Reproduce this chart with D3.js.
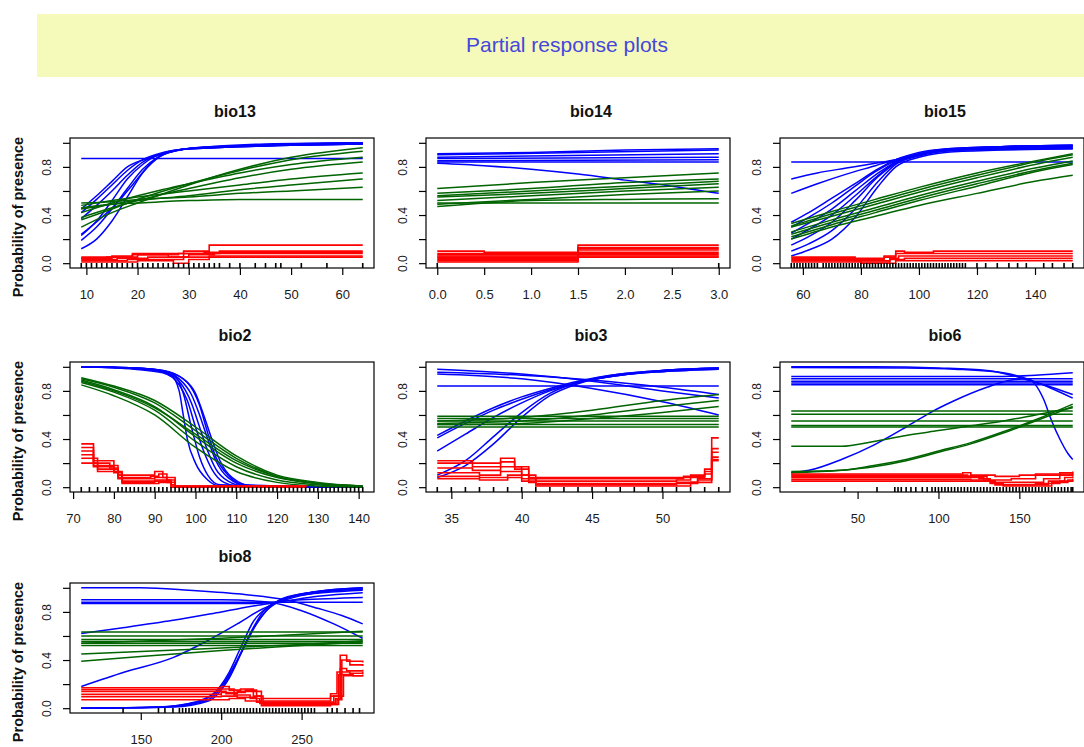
<!DOCTYPE html>
<html>
<head>
<meta charset="utf-8">
<script src="https://cdn.jsdelivr.net/npm/d3@7"></script>
<style>
  body { margin: 0; background: #fff; }
  svg { display: block; font-family: Arial, "Liberation Sans", sans-serif; }
</style>
</head>
<body>
<svg id="chart" width="1084" height="747"></svg>
<script>
const pageTitle = 'Partial response plots';
const yLabel = 'Probability of presence';
const panelNames = ['bio13', 'bio14', 'bio15', 'bio2', 'bio3', 'bio6', 'bio8'];
const yTicks = [0, 0.2, 0.4, 0.6, 0.8, 1.0];
const yTickLabels = ['0.0', '', '0.4', '', '0.8', ''];

// ---- bio13 ----
const bio13Ticks = [10, 20, 30, 40, 50, 60];
const bio13Blue = [
  [[9,0.87],[64,0.87]],
  [[9,0.12],[12,0.2],[15,0.35],[18,0.55],[21,0.75],[24,0.88],[28,0.94],[35,0.97],[45,0.99],[64,1.0]],
  [[9,0.19],[12,0.3],[15,0.45],[18,0.62],[21,0.78],[24,0.88],[28,0.94],[35,0.97],[64,0.99]],
  [[9,0.23],[12,0.35],[15,0.52],[18,0.7],[21,0.82],[24,0.9],[30,0.95],[64,0.99]],
  [[9,0.24],[13,0.38],[16,0.5],[19,0.65],[22,0.8],[25,0.9],[30,0.95],[64,0.99]],
  [[9,0.37],[12,0.48],[15,0.6],[18,0.73],[21,0.84],[25,0.91],[30,0.95],[64,0.99]],
  [[9,0.42],[12,0.53],[15,0.65],[18,0.77],[21,0.86],[25,0.92],[30,0.95],[64,1.0]],
  [[9,0.45],[12,0.56],[15,0.68],[18,0.8],[22,0.87],[26,0.92],[32,0.96],[64,1.0]]
];
const bio13Green = [
  [[9,0.30],[15,0.42],[20,0.5],[30,0.65],[40,0.78],[50,0.88],[64,0.96]],
  [[9,0.36],[15,0.45],[20,0.53],[30,0.66],[40,0.77],[50,0.86],[64,0.93]],
  [[9,0.42],[15,0.5],[20,0.56],[30,0.66],[40,0.75],[50,0.82],[64,0.88]],
  [[9,0.38],[15,0.46],[20,0.52],[30,0.62],[40,0.71],[50,0.78],[64,0.84]],
  [[9,0.48],[15,0.52],[20,0.55],[30,0.6],[40,0.65],[50,0.7],[64,0.75]],
  [[9,0.45],[15,0.49],[20,0.52],[30,0.56],[40,0.61],[50,0.65],[64,0.70]],
  [[9,0.5],[15,0.51],[20,0.53],[30,0.55],[40,0.58],[50,0.6],[64,0.63]],
  [[9,0.46],[15,0.49],[20,0.5],[30,0.52],[40,0.53],[64,0.53]]
];
const bio13Red = [
  [[9,0.05],[15,0.06],[19,0.08],[29,0.1],[34,0.15],[64,0.15]],
  [[9,0.04],[15,0.05],[20,0.07],[28,0.08],[36,0.1],[64,0.1]],
  [[9,0.04],[14,0.05],[19,0.07],[26,0.05],[29,0.08],[33,0.09],[64,0.09]],
  [[9,0.03],[16,0.04],[22,0.05],[30,0.07],[35,0.08],[64,0.08]],
  [[9,0.02],[18,0.03],[25,0.03],[29,0.05],[34,0.06],[64,0.06]],
  [[9,0.01],[20,0.02],[27,0.0],[30,0.03],[34,0.05],[64,0.05]]
];
const bio13Rug = [9,10,11,12,13,14,15,16,17,18,19,20,21,22,23,24,25,26,27,28,29,30,31,32,33,34,35,
  36,38,40,43,45,47,48,52,57,64];

// ---- bio14 ----
const bio14Ticks = [0, 0.5, 1.0, 1.5, 2.0, 2.5, 3.0];
const bio14Blue = [
  [[0,0.91],[1,0.92],[2,0.94],[3,0.95]],
  [[0,0.9],[1.5,0.92],[3,0.94]],
  [[0,0.88],[3,0.91]],
  [[0,0.87],[3,0.88]],
  [[0,0.85],[3,0.86]],
  [[0,0.84],[3,0.84]],
  [[0,0.83],[0.5,0.81],[1,0.78],[1.5,0.74],[2,0.69],[2.5,0.64],[3,0.58]]
];
const bio14Green = [
  [[0,0.62],[1,0.67],[2,0.71],[3,0.75]],
  [[0,0.58],[1,0.62],[2,0.67],[3,0.70]],
  [[0,0.56],[1,0.6],[2,0.64],[3,0.68]],
  [[0,0.55],[1,0.58],[2,0.62],[3,0.66]],
  [[0,0.52],[1,0.56],[2,0.6],[3,0.63]],
  [[0,0.49],[1,0.53],[2,0.57],[3,0.6]],
  [[0,0.47],[1,0.52],[2,0.53],[3,0.535]],
  [[0,0.5],[1,0.5],[3,0.5]]
];
const bio14Red = [
  [[0,0.1],[0.5,0.09],[1.5,0.15],[3,0.15]],
  [[0,0.08],[1.5,0.13],[3,0.13]],
  [[0,0.07],[1.5,0.12],[3,0.12]],
  [[0,0.06],[1.5,0.11],[3,0.11]],
  [[0,0.05],[1.5,0.09],[3,0.09]],
  [[0,0.04],[1.5,0.08],[3,0.08]],
  [[0,0.03],[1.5,0.07],[3,0.07]],
  [[0,0.02],[1.5,0.06],[3,0.06]],
  [[0,0.01],[1.5,0.05],[3,0.05]]
];
const bio14Rug = [0, 3];

// ---- bio15 ----
const bio15Ticks = [60, 80, 100, 120, 140];
const bio15Blue = [
  [[56,0.84],[153,0.84]],
  [[56,0.70],[65,0.75],[75,0.79],[85,0.83],[92,0.86],[100,0.9],[110,0.94],[130,0.96],[153,0.97]],
  [[56,0.58],[65,0.66],[75,0.74],[85,0.81],[92,0.86],[100,0.91],[110,0.94],[130,0.97],[153,0.98]],
  [[56,0.34],[62,0.42],[70,0.54],[78,0.66],[85,0.77],[92,0.86],[100,0.92],[110,0.95],[130,0.97],[153,0.98]],
  [[56,0.3],[62,0.38],[70,0.5],[78,0.64],[85,0.76],[92,0.85],[100,0.91],[110,0.95],[130,0.97],[153,0.98]],
  [[56,0.25],[62,0.33],[70,0.45],[78,0.6],[86,0.75],[92,0.84],[100,0.9],[115,0.95],[153,0.97]],
  [[56,0.2],[62,0.28],[70,0.4],[78,0.56],[86,0.73],[92,0.84],[100,0.9],[115,0.95],[153,0.96]],
  [[56,0.15],[62,0.22],[70,0.34],[78,0.52],[86,0.72],[92,0.83],[100,0.9],[115,0.94],[153,0.96]],
  [[56,0.1],[62,0.16],[70,0.27],[78,0.45],[86,0.68],[92,0.82],[100,0.89],[115,0.94],[153,0.95]],
  [[56,0.06],[62,0.11],[70,0.2],[78,0.38],[86,0.64],[92,0.8],[100,0.88],[115,0.93],[153,0.95]]
];
const bio15Green = [
  [[56,0.33],[70,0.43],[85,0.53],[100,0.63],[120,0.75],[140,0.85],[153,0.91]],
  [[56,0.31],[70,0.41],[85,0.51],[100,0.61],[120,0.73],[140,0.84],[153,0.9]],
  [[56,0.30],[70,0.39],[85,0.49],[100,0.59],[120,0.71],[140,0.82],[153,0.88]],
  [[56,0.26],[70,0.36],[85,0.46],[100,0.56],[120,0.68],[140,0.79],[153,0.85]],
  [[56,0.24],[70,0.34],[85,0.44],[100,0.54],[120,0.66],[140,0.77],[153,0.83]],
  [[56,0.22],[70,0.32],[85,0.42],[100,0.52],[120,0.64],[140,0.76],[153,0.82]],
  [[56,0.2],[70,0.3],[85,0.39],[100,0.48],[120,0.58],[140,0.68],[153,0.73]]
];
const bio15Red = [
  [[56,0.05],[78,0.04],[88,0.06],[92,0.1],[95,0.09],[105,0.1],[153,0.1]],
  [[56,0.04],[78,0.03],[88,0.05],[92,0.08],[153,0.08]],
  [[56,0.03],[78,0.02],[90,0.04],[93,0.06],[153,0.06]],
  [[56,0.02],[80,0.01],[90,0.03],[95,0.04],[153,0.04]],
  [[56,0.01],[80,0.0],[92,0.02],[153,0.02]]
];
const bio15Rug = [56,57,58,59,60,61,62,63,64,65,67,68,69,70,71,72,73,74,75,76,77,78,79,80,81,82,83,84,85,
  86,87,88,89,90,91,92,93,94,95,96,97,98,99,100,101,102,103,104,105,106,107,108,109,110,111,112,113,114,
  115,116,120,123,127,131,134,137,143,146,150,153];

// ---- bio2 ----
const bio2Ticks = [70, 80, 90, 100, 110, 120, 130, 140];
const bio2Blue = [
  [[72,1.0],[85,0.99],[92,0.96],[96,0.88],[99,0.7],[101,0.5],[103,0.3],[105,0.15],[108,0.05],[112,0.01],[141,0.0]],
  [[72,1.0],[85,0.99],[92,0.97],[96,0.9],[99,0.77],[101,0.6],[103,0.4],[105,0.22],[108,0.08],[113,0.01],[141,0.0]],
  [[72,1.0],[85,0.99],[92,0.97],[97,0.9],[100,0.78],[102,0.6],[104,0.4],[106,0.22],[109,0.08],[114,0.01],[141,0.0]],
  [[72,1.0],[85,0.98],[92,0.95],[96,0.85],[98,0.72],[100,0.5],[102,0.3],[104,0.15],[107,0.04],[112,0.0],[141,0.0]],
  [[72,1.0],[88,0.98],[94,0.93],[96,0.8],[97,0.6],[98,0.4],[100,0.2],[103,0.06],[106,0.01],[141,0.0]],
  [[72,1.0],[88,0.98],[95,0.92],[97,0.78],[99,0.5],[101,0.25],[103,0.1],[106,0.02],[141,0.0]],
  [[72,1.0],[85,0.99],[93,0.96],[98,0.87],[101,0.68],[103,0.45],[105,0.25],[108,0.1],[112,0.02],[141,0.0]]
];
const bio2Green = [
  [[72,0.91],[80,0.84],[90,0.72],[100,0.5],[110,0.26],[120,0.1],[130,0.04],[141,0.01]],
  [[72,0.9],[80,0.83],[90,0.7],[100,0.47],[110,0.24],[120,0.09],[130,0.03],[141,0.01]],
  [[72,0.88],[80,0.8],[90,0.66],[100,0.44],[110,0.22],[120,0.09],[130,0.03],[141,0.01]],
  [[72,0.89],[80,0.81],[90,0.67],[100,0.42],[110,0.2],[120,0.08],[130,0.03],[141,0.01]],
  [[72,0.87],[80,0.79],[90,0.64],[100,0.38],[110,0.17],[120,0.06],[130,0.02],[141,0.0]],
  [[72,0.85],[80,0.76],[90,0.6],[100,0.33],[110,0.13],[120,0.04],[130,0.01],[141,0.0]]
];
const bio2Red = [
  [[72,0.36],[75,0.22],[80,0.18],[81,0.1],[88,0.1],[90,0.13],[92,0.08],[95,0.0],[127,0.0]],
  [[72,0.33],[75,0.2],[79,0.16],[81,0.08],[89,0.09],[91,0.11],[93,0.06],[95,0.01],[127,0.0]],
  [[72,0.3],[75,0.18],[80,0.15],[81,0.07],[90,0.08],[93,0.04],[95,0.0],[127,0.0]],
  [[72,0.27],[75,0.17],[80,0.13],[82,0.05],[90,0.06],[94,0.02],[95,0.0],[127,0.0]],
  [[72,0.24],[76,0.15],[80,0.12],[82,0.04],[90,0.05],[94,0.01],[127,0.0]],
  [[72,0.2],[76,0.13],[81,0.1],[82,0.03],[91,0.04],[94,0.0],[127,0.0]]
];
const bio2Rug = [72,74,76,78,79,81,82,83,84,85,86,87,88,89,90,91,92,93,94,95,96,97,98,99,100,101,102,103,
  104,105,106,107,108,109,110,111,112,113,114,115,116,117,118,119,120,121,122,123,124,125,126,127,128,129,
  130,131,132,133,134,135,136,137,138,139,140,141];

// ---- bio3 ----
const bio3Ticks = [35, 40, 45, 50];
const bio3Blue = [
  [[34,0.98],[40,0.94],[45,0.88],[50,0.8],[54,0.74]],
  [[34,0.955],[40,0.93],[45,0.89],[50,0.83],[54,0.77]],
  [[34,0.94],[40,0.9],[45,0.82],[50,0.71],[54,0.6]],
  [[34,0.84],[54,0.84]],
  [[34,0.43],[36,0.55],[38,0.66],[40,0.75],[42,0.82],[44,0.88],[47,0.94],[50,0.97],[54,0.99]],
  [[34,0.41],[36,0.53],[38,0.64],[40,0.73],[42,0.81],[44,0.87],[47,0.93],[50,0.96],[54,0.98]],
  [[34,0.3],[36,0.44],[38,0.58],[40,0.7],[42,0.8],[44,0.87],[47,0.93],[50,0.97],[54,0.99]],
  [[34,0.1],[36,0.22],[38,0.42],[40,0.62],[42,0.78],[44,0.87],[47,0.94],[50,0.97],[54,0.99]],
  [[34,0.08],[36,0.18],[38,0.36],[40,0.58],[42,0.76],[44,0.86],[47,0.93],[50,0.96],[54,0.98]]
];
const bio3Green = [
  [[34,0.55],[40,0.58],[45,0.64],[50,0.72],[54,0.77]],
  [[34,0.53],[40,0.55],[45,0.6],[50,0.67],[54,0.72]],
  [[34,0.52],[40,0.53],[45,0.57],[50,0.62],[54,0.67]],
  [[34,0.59],[54,0.59]],
  [[34,0.57],[54,0.57]],
  [[34,0.55],[54,0.55]],
  [[34,0.52],[54,0.52]],
  [[34,0.5],[54,0.5]]
];
const bio3Red = [
  [[34,0.22],[36.5,0.2],[38.5,0.24],[39.5,0.17],[40.5,0.08],[51,0.08],[52,0.1],[53,0.15],[53.5,0.41],[54,0.41]],
  [[34,0.2],[36.5,0.17],[38.5,0.21],[39.5,0.15],[40.5,0.07],[51.5,0.09],[53,0.13],[53.5,0.32],[54,0.32]],
  [[34,0.16],[36.5,0.14],[38.5,0.17],[40,0.1],[41,0.05],[51,0.06],[52,0.08],[53,0.11],[53.5,0.29],[54,0.29]],
  [[34,0.12],[37,0.1],[38.5,0.13],[40,0.07],[41,0.03],[51,0.04],[52.5,0.07],[53.5,0.25],[54,0.25]],
  [[34,0.09],[37,0.08],[39,0.1],[40.5,0.04],[41,0.02],[51,0.03],[52.5,0.06],[53.5,0.23],[54,0.23]],
  [[34,0.07],[37,0.06],[39,0.08],[40,0.05],[41,0.01],[50,0.01],[52,0.04],[53.5,0.22],[54,0.22]]
];
const bio3Rug = [34,35,36,37,38,39,40,41,42,43,44,45,46,47,48,49,50,51,52,53,54];

// ---- bio6 ----
const bio6Ticks = [50, 100, 150];
const bio6Blue = [
  [[9,1.0],[60,1.0],[100,0.99],[130,0.97],[145,0.93],[160,0.87],[170,0.83],[183,0.77]],
  [[9,0.995],[80,0.99],[110,0.98],[140,0.95],[155,0.9],[170,0.82],[183,0.74]],
  [[9,0.92],[140,0.92],[160,0.93],[183,0.95]],
  [[9,0.9],[183,0.9]],
  [[9,0.88],[183,0.88]],
  [[9,0.865],[183,0.865]],
  [[9,0.85],[183,0.85]],
  [[9,0.12],[20,0.14],[40,0.23],[60,0.35],[80,0.5],[95,0.62],[110,0.72],[130,0.83],[145,0.89],[155,0.9],
   [160,0.85],[165,0.73],[170,0.55],[175,0.4],[180,0.28],[183,0.23]]
];
const bio6Green = [
  [[9,0.633],[183,0.633]],
  [[9,0.605],[183,0.605]],
  [[9,0.55],[183,0.55]],
  [[9,0.513],[183,0.513]],
  [[9,0.5],[183,0.5]],
  [[9,0.34],[40,0.34],[60,0.38],[80,0.43],[100,0.47],[120,0.51],[140,0.55],[160,0.6],[183,0.66]],
  [[9,0.13],[40,0.14],[60,0.18],[80,0.23],[100,0.3],[120,0.37],[140,0.46],[160,0.56],[183,0.69]],
  [[9,0.12],[40,0.14],[60,0.17],[80,0.22],[100,0.29],[120,0.36],[140,0.45],[160,0.55],[183,0.67]]
];
const bio6Red = [
  [[9,0.11],[112,0.11],[115,0.12],[120,0.1],[135,0.09],[150,0.1],[160,0.11],[175,0.12],[183,0.13]],
  [[9,0.1],[112,0.1],[118,0.09],[130,0.06],[145,0.07],[160,0.1],[175,0.11],[183,0.12]],
  [[9,0.09],[112,0.09],[125,0.07],[132,0.04],[150,0.04],[165,0.07],[175,0.1],[183,0.11]],
  [[9,0.08],[115,0.08],[128,0.05],[135,0.02],[155,0.02],[168,0.05],[178,0.08],[183,0.09]],
  [[9,0.065],[120,0.06],[132,0.03],[140,0.01],[158,0.01],[170,0.04],[180,0.06],[183,0.07]],
  [[9,0.05],[125,0.05],[135,0.02],[160,0.03],[175,0.05],[183,0.06]]
];
const bio6Rug = [42,62,73,75,77,80,83,86,90,93,96,98,100,102,104,106,108,110,112,114,116,118,120,122,124,
  126,128,130,132,134,136,138,140,142,144,146,148,150,152,154,156,158,160,162,164,166,168,170,172,174,176,
  178,180,182,183];

// ---- bio8 ----
const bio8Ticks = [150, 200, 250];
const bio8Blue = [
  [[113,1.0],[150,1.0],[180,0.98],[210,0.95],[240,0.9],[260,0.83],[275,0.77],[288,0.7]],
  [[113,0.9],[200,0.9],[230,0.88],[250,0.81],[270,0.7],[288,0.58]],
  [[113,0.88],[288,0.88]],
  [[113,0.87],[220,0.87],[250,0.9],[288,0.92]],
  [[113,0.62],[140,0.67],[170,0.73],[200,0.8],[225,0.86],[240,0.89],[260,0.93],[288,0.96]],
  [[113,0.18],[140,0.3],[170,0.42],[190,0.55],[210,0.7],[225,0.82],[240,0.9],[260,0.96],[288,0.99]],
  [[113,0.0],[160,0.01],[180,0.04],[195,0.12],[205,0.3],[212,0.5],[220,0.72],[230,0.85],[240,0.91],[260,0.97],[288,1.0]],
  [[113,0.0],[160,0.01],[185,0.05],[200,0.18],[210,0.4],[218,0.62],[226,0.8],[235,0.89],[250,0.95],[288,0.99]],
  [[113,0.0],[165,0.01],[190,0.06],[203,0.22],[212,0.45],[220,0.66],[228,0.81],[238,0.9],[255,0.96],[288,1.0]],
  [[113,0.0],[170,0.01],[192,0.06],[205,0.25],[214,0.5],[222,0.7],[232,0.86],[245,0.93],[288,0.98]]
];
const bio8Green = [
  [[113,0.632],[288,0.632]],
  [[113,0.6],[288,0.6]],
  [[113,0.57],[288,0.57]],
  [[113,0.555],[288,0.555]],
  [[113,0.54],[288,0.54]],
  [[113,0.52],[288,0.52]],
  [[113,0.39],[150,0.43],[200,0.48],[250,0.52],[288,0.55]],
  [[113,0.45],[150,0.47],[200,0.5],[250,0.53],[288,0.56]],
  [[113,0.54],[200,0.58],[288,0.64]]
];
const bio8Red = [
  [[113,0.17],[198,0.17],[200,0.18],[205,0.15],[212,0.16],[220,0.14],[225,0.08],[262,0.08],[268,0.12],[272,0.3],[274,0.44],[278,0.39],[288,0.38]],
  [[113,0.155],[196,0.155],[200,0.16],[208,0.13],[215,0.15],[222,0.1],[226,0.06],[262,0.06],[268,0.1],[273,0.28],[275,0.4],[280,0.36],[288,0.35]],
  [[113,0.14],[198,0.14],[203,0.12],[210,0.14],[220,0.1],[225,0.05],[265,0.05],[270,0.1],[274,0.33],[278,0.31],[288,0.32]],
  [[113,0.115],[195,0.115],[200,0.13],[208,0.11],[218,0.08],[224,0.04],[265,0.04],[271,0.08],[274,0.3],[280,0.29],[288,0.3]],
  [[113,0.095],[200,0.1],[210,0.09],[222,0.05],[226,0.03],[266,0.03],[272,0.07],[275,0.28],[282,0.27],[288,0.28]],
  [[113,0.07],[198,0.07],[205,0.08],[215,0.06],[225,0.02],[268,0.03],[273,0.1],[276,0.27],[288,0.27]]
];
const bio8Rug = [139,161,165,170,174,176,178,180,182,184,186,188,190,192,194,196,198,200,202,204,206,208,
  210,212,214,216,218,220,222,224,226,228,230,232,234,236,238,240,242,244,246,248,250,252,254,256,258,
  266,269,272,277,282,286];

const panels = [
  { blue: bio13Blue, green: bio13Green, red: bio13Red, rug: bio13Rug, ticks: bio13Ticks, fmt: d3.format('d') },
  { blue: bio14Blue, green: bio14Green, red: bio14Red, rug: bio14Rug, ticks: bio14Ticks, fmt: d3.format('.1f') },
  { blue: bio15Blue, green: bio15Green, red: bio15Red, rug: bio15Rug, ticks: bio15Ticks, fmt: d3.format('d') },
  { blue: bio2Blue, green: bio2Green, red: bio2Red, rug: bio2Rug, ticks: bio2Ticks, fmt: d3.format('d') },
  { blue: bio3Blue, green: bio3Green, red: bio3Red, rug: bio3Rug, ticks: bio3Ticks, fmt: d3.format('d') },
  { blue: bio6Blue, green: bio6Green, red: bio6Red, rug: bio6Rug, ticks: bio6Ticks, fmt: d3.format('d') },
  { blue: bio8Blue, green: bio8Green, red: bio8Red, rug: bio8Rug, ticks: bio8Ticks, fmt: d3.format('d') }
];

const svg = d3.select('#chart');

// header band
svg.append('rect')
  .attr('x', 37).attr('y', 14).attr('width', 1047).attr('height', 63)
  .attr('fill', '#f5f9b9');
svg.append('text')
  .attr('x', 567).attr('y', 52)
  .attr('text-anchor', 'middle')
  .attr('font-size', 21)
  .attr('fill', '#4646dc')
  .text(pageTitle);

const W = 304, H = 130;
const lefts = [70, 426, 780];
const tops = [138, 362, 583];
const colors = { blue: '#0000ff', green: '#006400', red: '#ff0000' };

panels.forEach((p, i) => {
  const x0 = lefts[i % 3], y0 = tops[Math.floor(i / 3)];
  const g = svg.append('g').attr('transform', `translate(${x0},${y0})`);

  const pts = [...p.blue, ...p.green, ...p.red].flat();
  const [lo, hi] = d3.extent(pts, d => d[0]);
  const pad = (hi - lo) * 0.04;
  const x = d3.scaleLinear().domain([lo - pad, hi + pad]).range([0, W]);
  const y = d3.scaleLinear().domain([-0.04, 1.04]).range([H, 0]);

  const smooth = d3.line().x(d => x(d[0])).y(d => y(d[1])).curve(d3.curveMonotoneX);
  const step = d3.line().x(d => x(d[0])).y(d => y(d[1])).curve(d3.curveStepAfter);

  g.append('g').selectAll('path').data(p.blue).enter().append('path')
    .attr('d', smooth).attr('fill', 'none').attr('stroke', colors.blue).attr('stroke-width', 1.5);
  g.append('g').selectAll('path').data(p.green).enter().append('path')
    .attr('d', smooth).attr('fill', 'none').attr('stroke', colors.green).attr('stroke-width', 1.5);
  g.append('g').selectAll('path').data(p.red).enter().append('path')
    .attr('d', step).attr('fill', 'none').attr('stroke', colors.red).attr('stroke-width', 1.6);

  // rug
  g.append('g').selectAll('line').data(p.rug).enter().append('line')
    .attr('x1', d => x(d)).attr('x2', d => x(d))
    .attr('y1', H).attr('y2', H - 5)
    .attr('stroke', '#000').attr('stroke-width', 1.6);

  // box
  g.append('rect').attr('width', W).attr('height', H)
    .attr('fill', 'none').attr('stroke', '#000').attr('stroke-width', 1.2);

  // x axis
  const xa = g.append('g').attr('transform', `translate(0,${H})`)
    .call(d3.axisBottom(x).tickValues(p.ticks).tickSize(7).tickPadding(15).tickFormat(p.fmt));
  xa.select('.domain').remove();
  xa.selectAll('text').attr('font-size', 13).attr('fill', '#1a1a1a').attr('font-family', 'Arial, "Liberation Sans", sans-serif');
  xa.selectAll('line').attr('stroke', '#000').attr('stroke-width', 1.2);

  // y axis
  const ya = g.append('g')
    .call(d3.axisLeft(y).tickValues(yTicks).tickSize(7).tickFormat((d, k) => yTickLabels[k]));
  ya.select('.domain').remove();
  ya.selectAll('line').attr('stroke', '#000').attr('stroke-width', 1.2);
  ya.selectAll('text')
    .attr('x', 0).attr('dy', '0.35em')
    .attr('text-anchor', 'middle')
    .attr('transform', 'translate(-23,0) rotate(-90)')
    .attr('font-size', 12).attr('fill', '#1a1a1a')
    .attr('font-family', 'Arial, "Liberation Sans", sans-serif');

  // panel title
  g.append('text')
    .attr('x', W / 2 + 13).attr('y', -21)
    .attr('text-anchor', 'middle')
    .attr('font-size', 16).attr('font-weight', 'bold').attr('fill', '#111')
    .text(panelNames[i]);

  if (i % 3 === 0) {
    svg.append('text')
      .attr('transform', `translate(18,${y0 + H / 2 + 14}) rotate(-90)`)
      .attr('dy', '0.35em')
      .attr('text-anchor', 'middle')
      .attr('font-size', 14.5).attr('font-weight', 'bold').attr('fill', '#111')
      .text(yLabel);
  }
});
</script>
</body>
</html>
